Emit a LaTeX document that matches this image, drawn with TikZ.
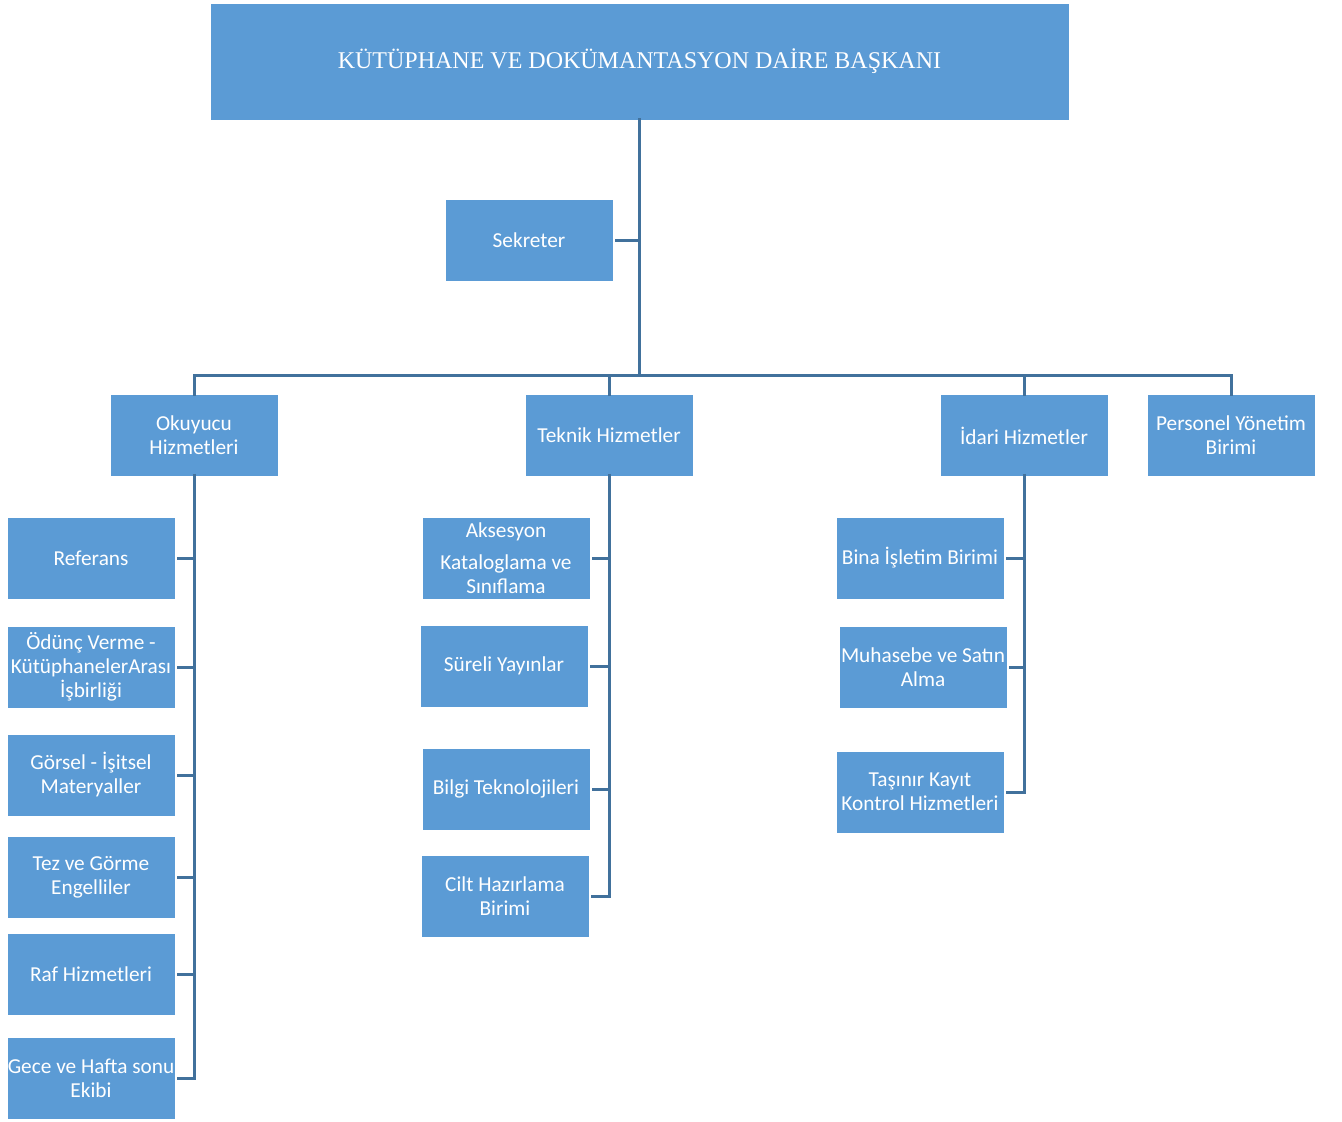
\documentclass[tikz,border=0pt]{standalone}
\usepackage{fontspec}
\setmainfont{Carlito}
\newfontfamily\titlefont{Liberation Serif}
\definecolor{boxblue}{HTML}{5B9BD5}
\definecolor{lineblue}{HTML}{41719C}
\begin{document}
\begin{tikzpicture}[x=1pt,y=-1pt,
  unit/.style={fill=boxblue, draw=white, line width=0.8pt, minimum width=168pt, minimum height=82pt,
    inner sep=0pt, text=white, align=center, font=\fontsize{21.3}{24}\selectfont},
  conn/.style={draw=lineblue, line width=3pt}]
\useasboundingbox (0,0) rectangle (1342,1122);
% top
\node[unit, minimum width=859pt, minimum height=117pt, font=\titlefont\fontsize{24}{28}\selectfont] (head) at (639.5,61.5) {KÜTÜPHANE VE DOKÜMANTASYON DAİRE BAŞKANI};
\node[unit] (sek) at (529,240) {Sekreter};
% level 2
\node[unit] (oku) at (194,435.5) {Okuyucu\\Hizmetleri};
\node[unit] (tek) at (609,435.5) {Teknik Hizmetler};
\node[unit] (ida) at (1024,435.5) {İdari Hizmetler};
\node[unit] (per) at (1231,435.5) {Personel Yönetim\\Birimi};
% okuyucu children
\node[unit] (ref) at (91,558) {Referans};
\node[unit] (odu) at (91,667) {Ödünç Verme -\\KütüphanelerArası\\İşbirliği};
\node[unit] (gor) at (91,775) {Görsel - İşitsel\\Materyaller};
\node[unit] (tez) at (91,877) {Tez ve Görme\\Engelliler};
\node[unit] (raf) at (91,974) {Raf Hizmetleri};
\node[unit] (gec) at (91,1078) {Gece ve Hafta sonu\\Ekibi};
% teknik children
\node[unit] (aks) at (506,558) {Aksesyon\\[8pt]Kataloglama ve\\Sınıflama};
\node[unit] (sur) at (504,666) {Süreli Yayınlar};
\node[unit] (bil) at (506,789) {Bilgi Teknolojileri};
\node[unit] (cil) at (505,896) {Cilt Hazırlama\\Birimi};
% idari children
\node[unit] (bin) at (920,558) {Bina İşletim Birimi};
\node[unit] (muh) at (923,667) {Muhasebe ve Satın\\Alma};
\node[unit] (tas) at (920,792) {Taşınır Kayıt\\Kontrol Hizmetleri};
% connectors
\coordinate (bus) at (639,375);
\draw[conn] ([yshift=2pt]head.south -| bus) -- (bus);
\draw[conn] ([xshift=2pt]sek.east) -- (sek.east -| bus);
\draw[conn] ([yshift=-2pt]oku.north) |- (bus) -| ([yshift=-2pt]per.north);
\draw[conn] ([yshift=-2pt]tek.north) -- (tek.north |- bus);
\draw[conn] ([yshift=-2pt]ida.north) -- (ida.north |- bus);
% okuyucu branch
\draw[conn] ([yshift=3pt]oku.south) |- ([xshift=2pt]gec.east);
\foreach \c in {ref,odu,gor,tez,raf}{
  \draw[conn] ([xshift=2pt]\c.east) -- (\c.east -| oku.south);
}
% teknik branch
\draw[conn] ([yshift=3pt]tek.south) |- ([xshift=2pt]cil.east);
\foreach \c in {aks,sur,bil}{
  \draw[conn] ([xshift=2pt]\c.east) -- (\c.east -| tek.south);
}
% idari branch
\draw[conn] ([yshift=3pt]ida.south) |- ([xshift=2pt]tas.east);
\foreach \c in {bin,muh}{
  \draw[conn] ([xshift=2pt]\c.east) -- (\c.east -| ida.south);
}
\end{tikzpicture}
\end{document}
